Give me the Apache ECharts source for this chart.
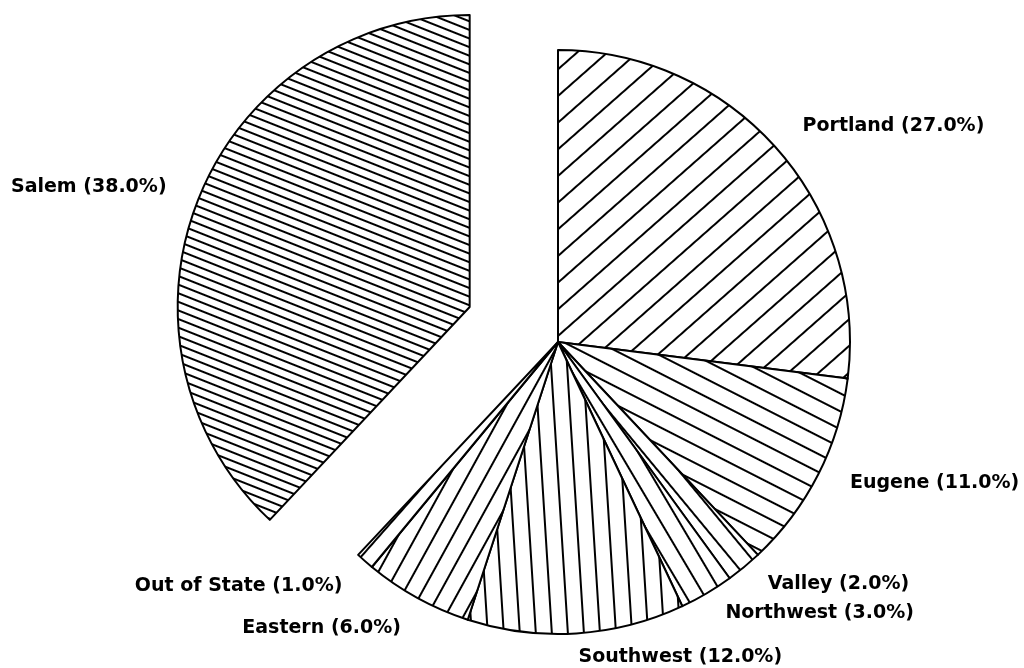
<!DOCTYPE html>
<html>
<head>
<meta charset="utf-8">
<script src="https://cdn.jsdelivr.net/npm/echarts@6/dist/echarts.min.js"></script>
<style>
  html, body { margin: 0; padding: 0; background: #fff; }
  #chart { width: 1024px; height: 668px; }
</style>
</head>
<body>
<div id="chart"></div>
<script>
// regions, clockwise from 12 o'clock
const regions = ["Portland", "Eugene", "Valley", "Northwest", "Southwest", "Eastern", "Out of State", "Salem"];
const shares = [27, 11, 2, 3, 12, 6, 1, 38];
const exploded = ["Salem"];

// hatch spacing per slice (px)
const hatchGap = { Portland: 20, Salem: 8 };

// striped tile, rotated to run along the slice's bisector
function hatch(angleDeg, gap) {
  const c = document.createElement("canvas");
  c.width = 4;
  c.height = gap;
  const ctx = c.getContext("2d");
  ctx.fillStyle = "#fff";
  ctx.fillRect(0, 0, 4, gap);
  ctx.fillStyle = "#000";
  ctx.fillRect(0, 0, 4, 2);
  return { image: c, repeat: "repeat", rotation: angleDeg * Math.PI / 180 };
}

const total = shares.reduce((a, b) => a + b, 0);
let acc = 0;
const pieData = regions.map((name, i) => {
  const mid = (acc + shares[i] / 2) / total * 360;
  acc += shares[i];
  return {
    name: name,
    value: shares[i],
    selected: exploded.includes(name),
    itemStyle: { color: hatch(mid - 90, hatchGap[name] || 16) }
  };
});

const chart = echarts.init(document.getElementById("chart"));
chart.setOption({
  backgroundColor: "#fff",
  animation: false,
  series: [{
    type: "pie",
    center: [558, 342],
    radius: 292,
    startAngle: 90,
    clockwise: true,
    selectedMode: "single",
    selectedOffset: 95,
    avoidLabelOverlap: true,
    itemStyle: { borderColor: "#000", borderWidth: 2 },
    label: {
      position: "outside",
      color: "#000",
      fontFamily: "DejaVu Sans",
      fontWeight: "bold",
      fontSize: 19,
      overflow: "none",
      distanceToLabelLine: 0,
      formatter: p => p.name + " (" + p.value.toFixed(1) + "%)"
    },
    labelLine: { show: false, length: 34, length2: 0 },
    emphasis: { disabled: true },
    data: pieData
  }]
});
</script>
</body>
</html>
